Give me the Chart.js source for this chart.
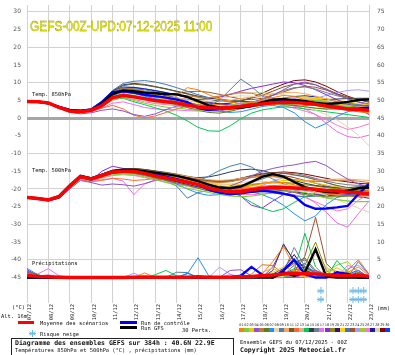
<!DOCTYPE html>
<html><head><meta charset="utf-8">
<script src="https://cdn.jsdelivr.net/npm/chart.js@4/dist/chart.umd.min.js"></script>
<style>
html,body{margin:0;padding:0;background:#fff;}
#wrap{position:relative;width:395px;height:355px;overflow:hidden;background:#fff;}
#c{position:absolute;left:0;top:0;}
.t{position:absolute;white-space:nowrap;font-family:"DejaVu Sans Mono",monospace;font-size:5.4px;line-height:8px;height:8px;color:#111;}
.b{font-weight:bold;font-size:6.5px;}
.bar{position:absolute;}
#title{position:absolute;left:30px;top:19px;font-family:"Liberation Sans",Arial,sans-serif;font-size:14px;line-height:14px;color:#ffff00;-webkit-text-stroke:0.35px #7a7a00;transform:scaleX(0.85);transform-origin:0 0;white-space:nowrap;}
#box{position:absolute;left:11px;top:338px;width:221px;height:22px;border:1px solid #222;}
.sw{position:absolute;top:328px;width:5px;height:4px;}
.swn{position:absolute;top:323px;width:5px;text-align:center;font-family:"DejaVu Sans Mono",monospace;font-size:3.6px;line-height:5px;color:#222;}
</style></head>
<body>
<div id="wrap">
<canvas id="c" width="395" height="355"></canvas>
<div id="title">GEFS-00Z-UPD:07-12-2025 11:00</div>
<div class="t" style="left:32px;top:90px;">Temp. 850hPa</div>
<div class="t" style="left:32px;top:166px;">Temp. 500hPa</div>
<div class="t" style="left:32px;top:259px;">Précipitations</div>
<div class="t" style="left:12px;top:303px;">(°C)</div>
<div class="t" style="left:1px;top:312px;">Alt. 16m</div>
<div class="t" style="left:377px;top:304px;">(mm)</div>
<div class="bar" style="left:18px;top:321px;width:16px;height:3px;background:#ff0000;"></div>
<div class="t" style="left:40px;top:318.5px;">Moyenne des scénarios</div>
<div class="bar" style="left:120px;top:321px;width:17px;height:3px;background:#0000ff;"></div>
<div class="t" style="left:141px;top:318.5px;">Run de contrôle</div>
<div class="bar" style="left:120px;top:326px;width:17px;height:3px;background:#000;"></div>
<div class="t" style="left:141px;top:324px;">Run GFS</div>
<div class="t" style="left:182px;top:326px;">30 Perts.</div>
<canvas id="flakeLeg" width="7" height="7" style="position:absolute;left:29px;top:330px;"></canvas>
<div class="t" style="left:40px;top:329.5px;">Risque neige</div>
<div id="swatches"></div>
<div id="box"></div>
<div class="t b" style="left:15px;top:338.5px;">Diagramme des ensembles GEFS sur 384h : 40.6N 22.9E</div>
<div class="t" style="left:15px;top:345.5px;">Températures 850hPa et 500hPa (°C) , précipitations (mm)</div>
<div class="t" style="left:240px;top:337.5px;">Ensemble GEFS du 07/12/2025 - 00Z</div>
<div class="t b" style="left:240px;top:346px;">Copyright 2025 Meteociel.fr</div>
</div>
<script>
// ---------- DATA ----------
const hours = [0,12,24,36,48,60,72,84,96,108,120,132,144,156,168,180,192,204,216,228,240,252,264,276,288,300,312,324,336,348,360,372,384];
const dateLabels = ["07/12","08/12","09/12","10/12","11/12","12/12","13/12","14/12","15/12","16/12","17/12","18/12","19/12","20/12","21/12","22/12","23/12"];
const leftTicks = [-45,-40,-35,-30,-25,-20,-15,-10,-5,0,5,10,15,20,25,30];
const rightTicks = [0,5,10,15,20,25,30,35,40,45,50,55,60,65,70,75];
const memberNames = ["01","02","03","04","05","06","07","08","09","10","11","12","13","14","15","16","17","18","19","20","21","22","23","24","25","26","27","28","29","30"];
const memberColors = ["#ff7f00","#7ccd3c","#e8c800","#9050c8","#c8782c","#5e7e1e","#1e90ff","#e6d2a8","#4682b4","#f4a860","#6e5a2a","#ff6a30","#d8b090","#00c850","#2c3e50","#708090","#ee6cee","#8a2be2","#8c8c10","#30107a","#ffd200","#3c78c0","#a0522d","#a89cff","#9acd32","#ff78c0","#1a1aa0","#ddd0a0","#8b0000","#0040ff"];

const t850Mean = [4.7,4.6,4.3,3.0,2.0,1.8,2.2,3.5,5.8,6.4,6.0, 5.5,5.0,4.6,4.3,3.7,3.1,2.9,2.8,3.0,3.3,3.7, 4.0,4.3,4.5,4.4,4.2,3.9,3.4,3.0,2.6,2.4,2.2];
const t850Control = [4.8,4.6,4.2,3.2,2.3,2.0,2.4,4.5,7.3,7.6,7.2, 6.6,6.2,5.8,5.2,4.5,2.8,2.3,2.6,2.9,3.2,3.8, 4.0,4.5,5.0,5.2,4.8,4.1,3.6,3.0,2.6,2.7,2.9];
const t850Gfs = [4.8,4.7,4.2,3.0,2.2,2.0,2.3,4.0,6.8,7.8,7.6, 7.2,7.0,6.8,6.7,6.0,4.8,3.6,3.0,2.8,2.9,3.4, 4.5,5.2,5.4,5.0,4.7,4.3,4.0,4.2,4.6,5.1,5.3];
const t850Members = [
[4.8,4.7,4.3,3.2,2.2,1.9,2.1,3.6,5.6,6.6,6.1, 5.4,4.9,4.8,6.2,8.6,8.0,6.6,5.5,4.6,4.0,4.4, 5.0,5.8,6.4,6.1,5.2,4.5,3.9,3.2,2.6,2.0,1.6],
[4.7,4.6,4.2,3.0,1.9,1.6,2.0,3.2,5.0,5.8,5.0, 4.2,3.6,3.1,2.9,2.5,2.2,2.4,3.0,3.6,4.2,4.6, 4.4,4.0,3.6,3.9,4.5,5.0,4.6,3.8,3.2,2.9,2.5],
[4.8,4.8,4.4,3.4,2.5,2.2,2.5,4.3,6.8,7.9,7.5, 6.8,6.0,5.4,4.9,4.1,3.4,3.0,2.6,2.3,2.7,3.5, 4.3,5.1,5.6,5.9,6.0,5.6,4.8,4.0,3.3,2.8,2.6],
[4.6,4.5,4.0,2.8,1.6,1.2,1.5,2.2,2.6,2.0,1.0, 0.5,1.2,2.4,3.4,3.6,3.0,2.4,2.0,2.6,3.5,4.4, 5.2,6.4,8.0,9.6,10.2,9.4,8.0,6.6,5.4,4.6,4.0],
[4.8,4.7,4.3,3.3,2.4,2.2,2.6,4.6,7.4,8.6,8.2, 7.6,7.1,6.8,6.5,6.3,5.9,5.8,6.2,6.8,7.2,7.0, 6.4,5.6,4.9,4.4,4.0,3.5,3.1,2.6,2.2,1.8,1.4],
[4.7,4.6,4.2,3.1,2.1,1.8,2.2,3.8,6.0,6.8,6.3, 5.6,5.0,4.4,3.8,3.0,2.2,1.6,1.4,1.9,2.7,3.4, 3.9,4.2,4.0,3.6,3.2,2.8,2.6,2.8,3.2,3.5,3.6],
[4.8,4.7,4.3,3.2,2.2,2.0,2.4,4.1,6.4,7.4,7.0, 6.2,5.5,4.9,4.4,3.9,3.3,2.6,2.0,1.6,1.8,2.5, 3.3,3.6,3.0,1.5,-1.0,-2.8,-1.5,0.5,1.8,2.4,2.0],
[4.8,4.6,4.2,3.1,2.1,1.9,2.3,3.9,6.1,7.0,6.6, 6.0,5.6,5.4,5.2,5.0,4.9,5.1,5.5,6.0,6.3,6.2, 5.8,5.2,4.6,4.0,3.2,2.2,1.0,-0.5,-2.5,-4.8,-7.8],
[4.8,4.7,4.3,3.3,2.3,2.0,2.5,4.4,7.0,8.2,8.3, 8.0,7.4,6.6,5.6,4.6,3.6,3.4,5.0,8.0,11.0,9.0, 6.2,4.6,3.8,3.5,3.5,3.8,4.2,4.4,4.2,3.8,3.3],
[4.7,4.6,4.3,3.2,2.3,2.1,2.6,4.4,6.9,8.0,7.8, 7.2,6.6,6.1,5.7,5.2,4.8,4.6,4.6,5.0,5.5,6.0, 6.4,6.8,7.2,7.3,6.9,6.2,5.4,4.8,4.2,3.8,3.5],
[4.8,4.7,4.2,3.1,2.1,1.9,2.3,4.2,7.3,9.2,9.6, 9.3,8.8,8.2,7.5,6.8,6.0,5.3,4.8,4.6,4.9,5.6, 6.4,7.6,8.8,9.6,9.9,9.4,8.2,6.9,5.9,5.2,4.7],
[4.8,4.6,4.1,3.0,2.0,1.7,1.9,2.8,3.6,2.6,0.8, 0.1,0.6,1.6,2.6,3.4,3.9,4.0,3.8,3.6,3.5,3.8, 4.3,4.8,5.0,4.8,4.4,3.9,3.4,3.0,2.6,2.3,2.0],
[4.7,4.6,4.3,3.2,2.2,2.0,2.3,3.7,5.5,6.2,5.7, 5.0,4.5,4.0,3.6,3.0,2.4,2.0,1.8,2.1,2.8,3.6, 4.2,4.7,5.0,5.3,5.4,5.1,4.6,4.0,3.6,3.3,3.1],
[4.8,4.7,4.3,3.3,2.3,2.0,2.2,3.5,5.4,5.6,4.6, 3.8,2.9,2.0,0.8,-0.8,-2.6,-3.6,-3.7,-2.2,-0.2,1.4, 2.3,2.8,3.2,3.0,2.6,2.2,1.8,1.4,1.0,0.6,0.2],
[4.8,4.7,4.3,3.2,2.3,2.1,2.5,4.5,7.6,9.4,9.8, 9.5,8.9,8.3,7.6,6.9,6.2,5.7,5.3,5.0,4.8,4.6, 4.4,4.4,4.5,4.6,4.8,5.0,5.2,5.4,5.5,5.6,5.6],
[4.8,4.6,4.2,3.1,2.2,2.0,2.4,4.2,7.0,8.4,8.1, 7.4,6.6,5.9,5.2,4.5,3.8,3.3,3.0,3.1,3.6,4.4, 5.4,6.6,7.8,8.6,8.8,8.2,7.2,6.3,5.7,5.3,5.0],
[4.7,4.6,4.2,3.1,2.0,1.6,1.8,2.8,4.2,4.6,3.8, 3.0,2.6,2.4,2.3,2.1,2.0,2.2,2.8,3.6,4.2,4.5, 4.6,4.4,4.0,3.4,2.6,1.0,-1.5,-3.8,-5.2,-5.6,-4.8],
[4.8,4.7,4.3,3.2,2.3,2.0,2.4,4.0,6.4,7.4,7.0, 6.4,5.9,5.6,5.4,5.3,5.2,5.4,5.9,6.7,7.6,8.4, 9.0,9.6,10.2,10.0,9.2,8.0,6.6,5.2,4.0,2.6,1.0],
[4.8,4.7,4.2,3.1,2.1,1.9,2.3,4.0,6.5,7.6,7.3, 6.7,6.1,5.5,4.9,4.2,3.5,3.1,2.9,3.0,3.4,3.9, 4.3,4.6,4.8,4.9,4.9,4.7,4.4,4.1,3.8,3.6,3.4],
[4.8,4.7,4.3,3.2,2.3,2.1,2.5,4.3,6.9,8.0,7.6, 6.8,6.0,5.3,4.7,4.1,3.5,3.1,2.8,2.7,2.8,3.2, 3.7,4.2,4.6,4.8,4.7,4.3,3.8,3.3,2.9,2.6,2.4],
[4.7,4.6,4.2,3.1,2.2,2.0,2.4,4.1,6.6,7.7,7.4, 6.8,6.3,5.9,5.5,5.0,4.4,3.8,3.3,3.0,2.9,3.1, 3.5,4.0,4.5,5.0,5.4,5.6,5.5,5.1,4.6,4.1,3.7],
[4.8,4.7,4.3,3.3,2.4,2.2,2.7,4.8,7.8,9.8,10.4, 10.6,10.2,9.5,8.6,7.6,6.6,5.8,5.2,4.8,4.6,4.5, 4.5,4.6,4.7,4.8,4.7,4.4,4.0,3.6,3.3,3.0,2.8],
[4.8,4.7,4.3,3.2,2.2,2.0,2.4,4.1,6.6,7.8,7.6, 7.2,6.9,6.8,7.0,7.4,7.6,7.3,6.7,6.0,5.4,5.2, 5.6,6.4,7.4,8.4,9.0,8.7,7.9,6.8,5.6,4.5,3.6],
[4.7,4.6,4.2,3.1,2.1,1.8,2.1,3.6,5.7,6.6,6.2, 5.6,5.0,4.5,4.1,3.7,3.3,3.0,2.9,3.0,3.3,3.7, 4.0,4.2,4.4,4.6,5.0,5.6,6.4,7.2,7.8,8.0,7.6],
[4.8,4.7,4.3,3.2,2.2,2.0,2.4,4.0,6.2,7.0,6.5, 5.8,5.1,4.6,4.1,3.6,3.0,2.6,2.4,2.5,2.9,3.4, 3.8,4.0,3.9,3.6,3.2,2.8,2.5,2.4,2.5,2.6,2.7],
[4.8,4.6,4.2,3.1,2.0,1.7,2.0,3.4,5.2,5.8,5.3, 4.6,4.1,3.8,3.5,3.3,3.1,3.0,3.1,3.4,3.8,4.1, 4.2,4.0,3.5,2.8,2.0,1.0,-0.4,-2.0,-3.2,-2.6,-1.6],
[4.8,4.7,4.3,3.3,2.3,2.1,2.5,4.4,7.2,8.6,8.6, 8.2,7.7,7.2,6.6,5.9,5.1,4.4,3.9,3.6,3.6,3.9, 4.4,5.0,5.6,6.1,6.3,6.0,5.4,4.7,4.1,3.7,3.4],
[4.8,4.7,4.3,3.2,2.2,2.0,2.4,4.0,6.3,7.3,7.0, 6.5,6.1,5.8,5.6,5.5,5.5,5.7,6.1,6.6,7.0,7.2, 7.2,7.0,6.6,6.2,5.8,5.4,5.0,4.6,4.2,3.8,3.5],
[4.8,4.7,4.3,3.2,2.3,2.1,2.6,4.5,7.2,8.4,8.1, 7.5,6.9,6.3,5.7,5.1,4.6,4.2,4.0,4.2,4.8,5.8, 7.0,8.4,9.6,10.6,10.8,10.2,9.0,7.5,6.2,5.2,4.5],
[4.8,4.7,4.3,3.3,2.4,2.2,2.6,4.6,7.5,8.8,8.7, 8.3,7.8,7.2,6.5,5.8,5.1,4.5,4.0,3.7,3.6,3.7, 4.0,4.4,4.8,5.1,5.2,5.0,4.6,4.1,3.7,3.4,3.2]
];

const t500Mean = [-22.4,-22.7,-23.1,-22.2,-19.2,-16.5,-17.2,-16.2,-15.2,-15.0,-15.0, -15.6,-16.3,-16.9,-17.5,-18.1,-18.7,-19.8,-20.4,-20.8,-20.8,-20.2, -19.8,-19.6,-19.6,-19.7,-19.9,-20.1,-20.4,-20.6,-20.9,-21.1,-21.4];
const t500Control = [-22.4,-22.8,-23.2,-22.3,-19.3,-16.6,-17.3,-16.2,-15.3,-15.0,-14.9, -15.3,-15.8,-16.5,-17.2,-18.0,-18.8,-20.2,-21.0,-21.5,-21.2,-20.8, -20.5,-20.8,-21.3,-22.0,-24.5,-25.6,-25.5,-25.2,-24.8,-21.5,-18.5];
const t500Gfs = [-22.3,-22.6,-23.0,-22.0,-19.0,-16.3,-17.0,-16.0,-15.0,-14.6,-14.6, -15.0,-15.4,-15.8,-16.3,-17.0,-17.8,-18.8,-19.6,-19.8,-19.3,-18.0, -16.6,-15.8,-16.5,-18.0,-19.5,-20.3,-20.8,-21.0,-20.5,-19.8,-19.6];
const t500Members = [
[-22.4,-22.7,-23.1,-22.3,-19.4,-16.8,-17.5,-16.6,-15.6,-15.2,-15.1, -15.6,-16.1,-16.6,-17.0,-17.5,-18.0,-18.8,-19.4,-19.8,-19.6,-19.0, -18.4,-18.0,-18.2,-18.8,-19.6,-20.4,-21.0,-21.4,-21.2,-20.8,-20.5],
[-22.5,-22.8,-23.2,-22.5,-19.8,-17.2,-17.6,-16.8,-16.0,-15.8,-16.0, -16.6,-17.4,-18.2,-19.0,-19.8,-20.4,-21.0,-21.6,-22.0,-22.2,-22.0, -21.6,-21.0,-20.6,-20.6,-21.0,-21.8,-22.6,-23.0,-23.4,-23.6,-23.5],
[-22.3,-22.6,-23.0,-22.0,-19.0,-16.2,-16.9,-15.9,-14.9,-14.6,-14.7, -15.1,-15.6,-16.1,-16.6,-17.2,-17.8,-18.4,-19.0,-19.4,-19.5,-19.2, -18.6,-18.0,-17.6,-17.5,-17.8,-18.3,-18.9,-19.4,-19.8,-20.0,-20.2],
[-22.5,-22.9,-23.3,-22.6,-20.0,-17.6,-18.2,-18.9,-18.6,-18.8,-19.2, -18.5,-17.6,-17.2,-17.4,-17.9,-18.6,-19.2,-19.6,-19.2,-18.0,-16.4, -15.0,-14.2,-13.6,-13.2,-12.6,-12.2,-13.4,-15.4,-17.2,-18.6,-19.4],
[-22.4,-22.7,-23.1,-22.2,-19.2,-16.5,-17.1,-16.2,-15.2,-14.8,-14.6, -14.9,-15.3,-15.8,-16.4,-17.0,-17.6,-18.0,-18.2,-18.0,-17.4,-16.8, -16.4,-16.4,-16.8,-17.4,-17.8,-17.9,-17.8,-17.6,-17.5,-17.8,-18.2],
[-22.4,-22.8,-23.2,-22.4,-19.6,-17.0,-17.4,-16.5,-15.6,-15.4,-15.6, -16.2,-16.9,-17.6,-18.3,-19.0,-19.8,-20.6,-21.2,-21.4,-21.0,-20.4, -20.0,-20.0,-20.4,-21.0,-21.6,-22.0,-22.2,-22.2,-22.0,-21.8,-21.6],
[-22.4,-22.7,-23.1,-22.2,-19.2,-16.5,-17.2,-16.2,-15.2,-14.9,-15.0, -15.6,-16.4,-17.4,-18.6,-20.0,-21.2,-21.8,-21.6,-21.0,-20.6,-20.8, -21.6,-22.8,-24.6,-27.0,-29.0,-27.6,-24.4,-22.4,-21.8,-21.4,-21.0],
[-22.4,-22.7,-23.1,-22.3,-19.3,-16.6,-17.2,-16.3,-15.3,-15.0,-15.0, -15.4,-15.9,-16.4,-17.0,-17.6,-18.2,-18.6,-18.8,-18.6,-18.2,-17.8, -17.8,-18.2,-18.8,-19.4,-20.0,-20.8,-21.8,-23.0,-24.2,-25.4,-26.6],
[-22.4,-22.7,-23.1,-22.3,-19.3,-16.4,-17.0,-16.1,-15.1,-14.8,-14.8, -15.2,-15.8,-16.6,-17.4,-18.0,-17.8,-16.4,-14.8,-13.6,-12.8,-13.8, -15.6,-17.2,-18.6,-19.6,-20.2,-20.4,-20.4,-20.2,-20.0,-19.8,-19.8],
[-22.3,-22.6,-23.0,-22.1,-19.1,-16.4,-17.0,-16.0,-15.0,-14.6,-14.5, -14.8,-15.2,-15.6,-16.0,-16.5,-17.0,-17.4,-17.6,-17.4,-17.0,-16.6, -16.4,-16.6,-17.0,-17.4,-17.6,-17.6,-17.4,-17.2,-17.2,-17.4,-17.6],
[-22.4,-22.7,-23.1,-22.2,-19.2,-16.5,-17.1,-16.1,-15.0,-14.5,-14.3, -14.5,-14.9,-15.3,-15.8,-16.4,-17.0,-17.5,-17.8,-17.6,-17.0,-16.2, -15.6,-15.4,-15.6,-16.0,-16.6,-17.4,-18.2,-19.0,-19.6,-20.0,-20.2],
[-22.5,-22.8,-23.2,-22.5,-19.8,-17.3,-18.0,-17.6,-17.0,-17.2,-17.6, -17.4,-17.0,-16.8,-17.0,-17.5,-18.2,-19.0,-19.6,-20.0,-20.0,-19.6, -19.2,-19.0,-19.2,-19.6,-20.2,-20.8,-21.4,-21.8,-22.0,-22.0,-21.8],
[-22.4,-22.8,-23.2,-22.4,-19.6,-17.0,-17.6,-16.8,-15.9,-15.6,-15.8, -16.4,-17.2,-18.0,-18.6,-19.2,-19.8,-20.4,-20.8,-21.0,-21.0,-20.6, -20.2,-20.0,-20.0,-20.2,-20.6,-21.0,-21.4,-21.6,-21.8,-22.0,-22.2],
[-22.4,-22.7,-23.1,-22.3,-19.3,-16.6,-17.2,-16.4,-15.5,-15.2,-15.3, -15.8,-16.4,-17.0,-17.6,-18.2,-18.8,-19.4,-20.0,-20.8,-22.0,-23.8, -25.4,-26.4,-25.6,-23.8,-22.2,-21.2,-20.8,-20.8,-21.2,-21.6,-21.8],
[-22.4,-22.7,-23.0,-22.1,-19.0,-16.2,-16.8,-15.8,-14.7,-14.3,-14.2, -14.5,-15.0,-15.6,-16.2,-16.6,-16.8,-16.6,-16.0,-15.2,-14.6,-14.4, -14.8,-15.6,-16.6,-17.6,-18.4,-19.0,-19.4,-19.6,-19.6,-19.4,-19.2],
[-22.4,-22.7,-23.1,-22.2,-19.2,-16.5,-17.1,-16.1,-15.1,-14.7,-14.6, -15.0,-15.5,-16.1,-16.8,-17.6,-18.4,-19.0,-19.4,-19.4,-19.0,-18.2, -17.2,-16.2,-15.6,-15.6,-16.2,-17.0,-17.8,-18.4,-18.8,-19.0,-19.0],
[-22.5,-22.9,-23.3,-22.6,-20.0,-17.4,-17.8,-17.4,-17.0,-17.8,-21.6, -18.6,-17.4,-17.2,-17.6,-18.2,-18.8,-19.4,-19.8,-20.0,-20.0,-19.8, -19.6,-19.6,-20.0,-20.8,-22.0,-24.0,-26.6,-29.6,-30.8,-27.0,-23.4],
[-22.4,-22.7,-23.1,-22.3,-19.4,-16.8,-17.6,-15.0,-13.6,-14.2,-14.6, -15.2,-15.8,-16.4,-17.0,-17.6,-18.2,-18.8,-19.4,-20.2,-22.0,-24.6, -25.4,-23.4,-21.6,-20.6,-20.2,-20.4,-20.8,-21.2,-21.4,-21.4,-21.2],
[-22.4,-22.7,-23.1,-22.2,-19.2,-16.4,-17.0,-16.1,-15.1,-14.8,-14.8, -15.3,-15.9,-16.5,-17.1,-17.7,-18.3,-18.9,-19.3,-19.4,-19.2,-18.8, -18.4,-18.2,-18.2,-18.4,-18.8,-19.2,-19.6,-20.0,-20.4,-20.6,-20.8],
[-22.4,-22.8,-23.2,-22.4,-19.5,-16.8,-17.5,-16.6,-15.6,-15.3,-15.4, -15.9,-16.6,-17.3,-18.0,-18.7,-19.4,-20.0,-20.4,-20.6,-20.6,-20.4, -20.2,-20.2,-20.4,-20.8,-21.2,-21.6,-21.8,-21.8,-21.6,-21.4,-21.2],
[-22.3,-22.6,-23.0,-22.1,-19.1,-16.3,-16.9,-15.9,-14.9,-14.6,-14.6, -15.0,-15.5,-16.0,-16.6,-17.2,-17.8,-18.3,-18.6,-18.8,-18.8,-18.6, -18.4,-18.4,-18.6,-19.0,-19.4,-19.8,-20.2,-20.6,-20.8,-21.0,-21.0],
[-22.4,-22.7,-23.1,-22.3,-19.3,-16.6,-17.2,-16.3,-15.4,-15.1,-15.2, -15.8,-16.6,-17.6,-19.2,-22.6,-21.0,-20.4,-20.2,-19.8,-19.6,-19.8, -20.4,-21.0,-21.6,-22.0,-22.2,-22.0,-21.6,-21.2,-21.0,-20.8,-20.6],
[-22.4,-22.7,-23.1,-22.2,-19.2,-16.4,-17.0,-16.0,-15.0,-14.6,-14.5, -14.8,-15.2,-15.7,-16.2,-16.8,-17.4,-17.8,-18.0,-17.8,-17.2,-16.6, -16.2,-16.0,-16.2,-16.8,-17.6,-18.4,-19.2,-19.8,-20.2,-20.4,-20.4],
[-22.4,-22.8,-23.2,-22.4,-19.6,-17.0,-17.6,-16.7,-15.8,-15.5,-15.6, -16.1,-16.8,-17.5,-18.2,-18.9,-19.6,-20.2,-20.6,-20.8,-20.6,-20.0, -19.0,-17.8,-16.8,-16.2,-16.4,-17.2,-18.2,-19.2,-20.0,-20.6,-21.0],
[-22.4,-22.7,-23.1,-22.3,-19.4,-16.7,-17.3,-16.5,-15.6,-15.3,-15.4, -15.9,-16.5,-17.1,-17.7,-18.4,-19.1,-19.8,-20.4,-20.8,-21.0,-21.0, -20.8,-20.6,-20.6,-20.8,-21.2,-21.8,-22.4,-23.0,-23.4,-23.6,-23.6],
[-22.5,-22.8,-23.2,-22.5,-19.8,-17.2,-17.8,-17.0,-16.2,-16.0,-16.2, -16.8,-17.4,-18.0,-18.6,-19.2,-19.8,-20.4,-21.0,-21.4,-21.6,-21.6, -21.4,-21.2,-21.2,-21.6,-22.4,-23.6,-25.0,-26.2,-25.6,-23.2,-21.4],
[-22.4,-22.7,-23.1,-22.2,-19.2,-16.5,-17.1,-16.1,-15.1,-14.7,-14.6, -14.9,-15.4,-16.0,-16.7,-17.4,-18.1,-18.8,-19.4,-19.8,-20.0,-20.0, -19.8,-19.6,-19.6,-19.8,-20.2,-20.6,-21.0,-21.4,-21.8,-22.2,-22.6],
[-22.4,-22.7,-23.1,-22.3,-19.3,-16.6,-17.2,-16.3,-15.3,-15.0,-15.0, -15.4,-15.9,-16.4,-16.9,-17.4,-17.9,-18.3,-18.6,-18.8,-18.8,-18.6, -18.4,-18.2,-18.2,-18.4,-18.8,-19.2,-19.8,-20.4,-21.0,-21.6,-22.0],
[-22.4,-22.7,-23.0,-22.1,-19.0,-16.2,-16.9,-15.9,-14.8,-14.4,-14.3, -14.6,-15.0,-15.5,-16.0,-16.6,-17.2,-17.6,-17.8,-17.6,-17.0,-16.4, -15.8,-15.4,-15.2,-15.4,-15.8,-16.4,-17.0,-17.6,-18.0,-18.4,-18.6],
[-22.4,-22.7,-23.1,-22.2,-19.2,-16.4,-17.0,-16.0,-15.0,-14.7,-14.7, -15.1,-15.7,-16.3,-17.0,-17.7,-18.4,-19.0,-19.6,-20.0,-20.2,-20.2, -20.0,-19.8,-19.8,-20.0,-20.4,-20.8,-21.2,-21.6,-21.8,-22.0,-22.0]
];

const precipMean = [0.6,0.3,0.2,0.1,0,0,0,0,0,0,0.1, 0.1,0.1,0.1,0.1,0.1,0.2,0.1,0.1,0.1,0.2,0.3, 0.5,0.7,1.0,1.2,1.1,1.0,0.8,0.6,0.5,0.7,0.3];
const precipControl = [0,0,0,0,0,0,0,0,0,0,0, 0,0,0,0,0,0,0,0,0,0.5,3.0, 0.8,0,2.0,5.0,1.0,0,0,1.5,1.0,0,0];
const precipGfs = [0,0,0,0,0,0,0,0,0,0,0, 0,0,0,0,0,0,0,0,0,0,0, 0,0,1.5,0.5,1.5,8.0,0.3,0,0,0,0];
const precipMembers = [
[0.5,0.3,0,0,0,0,0,0,0,0,0, 1.3,0,0,0,0,0,0,0,0,0,0, 1.0,4.5,8.8,3.0,0.5,0,0,0,1.5,3.0,0.5],
[1.0,0.5,0,0,0,0,0,0,0,0,0, 0,0,0,0,0,0,0,0,0,0.5,0, 0,0,0,1.5,2.5,1.0,0,0,0,1.2,0],
[0.8,0.3,0,0,0,0,0,0,0,0,0, 0,0,0,0,0,0,0,0,0,0,0, 0,1.5,3.0,2.0,0,0,1.0,2.8,1.0,0,0],
[1.5,0.6,0,0,0,0,0,0,0,0,0, 0,0,0,0,0,0,0,0,2.0,2.2,0.5, 0,0,0,0,1.0,2.0,0.8,0,0,0,0],
[0.6,0,0,0,0,0,0,0,0,0,0, 0,0,0,0,0,0,0,0,0,0,1.0, 3.6,3.4,1.0,0,0,2.0,0.5,0,0,0,0],
[1.8,0.8,0,0,0,0,0,0,0,0,0, 0,0,0,0,0,0,0,0,0,0,0, 0,0,1.2,2.0,0.6,0,0,0,0.8,0,0],
[2.6,0.8,0,0,0,0,0,0,0,0,0, 0,0,0,0,1.0,5.6,0.5,0,0,0,0, 0,0,0,0.5,1.0,0,0,0,0,0,0],
[0.4,0,0,0,0,0,0,0,0,0,0, 0,0,0,0,0,0,0,0,0,0,0, 0,1.0,1.5,1.0,0,0,0,0,0,0.6,0],
[1.2,0.5,0,0,0,0,0,0,0,0,0, 0,0,0,1.5,1.4,0,0,0,0,0,0, 0,0,0.8,3.5,5.0,1.5,0,0,0,4.5,0.8],
[0.5,0,0,0,0,0,0,0,0,0,0, 0,0,0,0,0,0,0,0,0,0,0, 1.5,2.6,1.0,0,0,0,2.5,1.8,0,1.0,0],
[0.8,0.3,0,0,0,0,0,0,0,0,0, 0,0,0,0,0,0,0,0,0,0,0, 0,0,2.0,4.0,5.5,2.0,0,0,0,0,0],
[1.0,0.4,0,0,0,0,0,0,0,0,0, 0.6,0,0,0,0,0,0,0,0,0,0, 0,0,1.0,1.5,0,0,0,0,2.0,5.0,1.0],
[0.6,0,0,0,0,0,0,0,0,0,0, 0,0,0,0,0,0,0,0,0,0,0, 0,0,0.6,1.0,1.5,0,0.5,0,0,0,0],
[1.0,0.5,0,0,0,0,0,0,0,0,0, 0,0.8,2.0,0.5,0,0,0,0,0,0,0, 0,0,0,2.0,12.5,3.0,0,4.8,1.5,0,0],
[0.7,0,0,0,0,0,0,0,0,0,0, 0,0,0,0,0,0,0,0,0,0,0, 0,2.0,9.5,4.5,1.0,0,0,0,0,0,0],
[0.9,0.3,0,0,0,0,0,0,0,0,0, 0,0,0,0,0,0,0,0,0,0,0, 0,0,1.5,8.5,3.0,1.0,0,0,0,0,0],
[1.5,1.0,2.5,0.5,0,0,0,0,0,0,0, 0,0,0,0,0,0,0,0,0.8,0,0, 0,0,0,0,0.8,0,0,0,1.0,0,0],
[2.2,0.6,0,0,0,0,0,0,0,0,0, 0,0,0,0,0,0,0,0,0,0,0, 0,3.0,9.0,5.0,1.0,0,0,0,0,0,0],
[0.5,0,0,0,0,0,0,0,0,0,0, 0,0,0,0,0,0,0,0,0,0,0, 0,0,0,1.0,3.5,10.0,2.0,0,0,0,0],
[1.0,0,0,0,0,0,0,0,0,0,0, 0,0,0,0,0,0,0,0,0,0,0, 0,1.0,2.5,6.5,2.0,1.0,0,0,0,0,0],
[0.8,0.4,0,0,0,0,0,0,0,0,0, 0,0,0,0,0,0,0,0,0,0,0, 0,0,0.8,1.8,0,1.2,0,1.0,2.0,0,0],
[0.6,0,0,0,0,0,0,0,0,0,0, 0,0,0,0,1.2,0,0,0,0,0,0, 0,0,1.0,2.5,4.0,1.0,0,0,0,2.0,0],
[0.7,0,0,0,0,0,0,0,0,0,0, 0,0,0,0,0,0,0,0,0,0,0, 0,0,0,1.5,6.0,17.0,4.0,1.0,0,0,0],
[0.9,0,0,0,0,0,0,0,0,0,1.2, 0,0,0,0,0,0,0,2.9,1.0,0,0, 0,0,0,0,0,0,0,0,2.5,3.5,1.0],
[0.5,0,0,0,0,0,0,0,0,0,0, 0,0,0,0,0,0,0,0,0,0,0, 0,0,0.5,1.0,0,0,1.5,3.5,4.5,1.0,0],
[0.8,0.4,0.8,0,0,0,0,0,0,0,0, 0,0,0,0,0,0,0,0,0,0,0, 0,0,0,0,1.0,2.0,0,0,3.5,2.0,0],
[1.1,0,0,0,0,0,0,0,0,0,0, 0,0,0,0,0,0,0,0,0,0,0, 0,0,2.0,5.0,3.0,1.5,0,0,0,0,0],
[0.5,0,0,0,0,0,0,0,0,0,0, 0,0,0,0,0,0,0,0,0,0,0, 0,0,0,0,2.0,6.5,3.0,1.0,0,0,0],
[0.9,0,0,0,0,0,0,0,0,0,0, 0,0,0,0,0,0,0,0,0,0,0, 0,0,0,2.0,3.0,1.0,0,0,0,1.5,0],
[1.2,0.4,0,0,0,0,0,0,0,0,0, 0,0,0,0,0,0,0,0,0,0,0, 0,0,0,1.5,2.5,0.8,0,0,1.0,2.0,0]
];
// snow risk markers: forecast hour and marker row (mm axis, below zero line)
const snowHours = [330,366,372,378];
const snowRows = [-3.8,-6.2];

// ---------- RENDER ----------
function makeFlake(cv){
  const c = cv || document.createElement('canvas');
  c.width = 7; c.height = 7;
  const g = c.getContext('2d');
  g.strokeStyle = '#6fbbe8'; g.lineWidth = 1;
  g.beginPath();
  g.moveTo(3.5,0); g.lineTo(3.5,7);
  g.moveTo(0.5,1.8); g.lineTo(6.5,5.2);
  g.moveTo(0.5,5.2); g.lineTo(6.5,1.8);
  g.moveTo(0,3.5); g.lineTo(7,3.5);
  g.stroke();
  return c;
}
const flake = makeFlake();
makeFlake(document.getElementById('flakeLeg'));

const sw = document.getElementById('swatches');
memberColors.forEach((col,k)=>{
  const x = 239 + k*5.03;
  const s = document.createElement('div'); s.className='sw'; s.style.left = x+'px'; s.style.background = col; sw.appendChild(s);
  const n = document.createElement('div'); n.className='swn'; n.style.left = x+'px'; n.textContent = memberNames[k]; sw.appendChild(n);
});

const pts = arr => arr.map((v,i)=>({x:hours[i], y:v}));
const base = {borderWidth:1, pointRadius:0, tension:0, fill:false, spanGaps:true};
const datasets = [];
t850Members.forEach((a,k)=>datasets.push(Object.assign({}, base, {label:'m'+memberNames[k], data:pts(a), borderColor:memberColors[k], yAxisID:'y', order:3})));
t500Members.forEach((a,k)=>datasets.push(Object.assign({}, base, {label:'m'+memberNames[k], data:pts(a), borderColor:memberColors[k], yAxisID:'y', order:3})));
precipMembers.forEach((a,k)=>datasets.push(Object.assign({}, base, {label:'m'+memberNames[k], data:pts(a), borderColor:memberColors[k], yAxisID:'y2', order:3})));
[[t850Control,'y'],[t500Control,'y'],[precipControl,'y2']].forEach(([a,ax])=>datasets.push(Object.assign({}, base, {label:'control', data:pts(a), borderColor:'#0000ff', borderWidth:2.4, yAxisID:ax, order:2})));
[[t850Gfs,'y'],[t500Gfs,'y'],[precipGfs,'y2']].forEach(([a,ax])=>datasets.push(Object.assign({}, base, {label:'gfs', data:pts(a), borderColor:'#000000', borderWidth:2.4, yAxisID:ax, order:1})));
[[t850Mean,'y'],[t500Mean,'y'],[precipMean,'y2']].forEach(([a,ax])=>datasets.push(Object.assign({}, base, {label:'mean', data:pts(a), borderColor:'#ff0000', borderWidth:3.5, yAxisID:ax, order:0})));
const snowPts = [];
snowHours.forEach(h=>snowRows.forEach(r=>snowPts.push({x:h, y:r})));
datasets.push({label:'snow', data:snowPts, showLine:false, pointStyle:flake, pointRadius:3, yAxisID:'y2', order:0});

const zeroPad = s => { s.paddingTop = 0; s.paddingBottom = 0; s.paddingLeft = 0; s.paddingRight = 0; };

new Chart(document.getElementById('c'), {
  type:'line',
  data:{datasets},
  options:{
    responsive:false, animation:false, devicePixelRatio:1,
    layout:{padding:0},
    plugins:{legend:{display:false}, tooltip:{enabled:false}},
    scales:{
      x:{type:'linear', min:0, max:384,
        afterBuildTicks:s=>{ s.ticks = dateLabels.map((d,i)=>({value:i*24})); },
        ticks:{autoSkip:false, minRotation:90, maxRotation:90, padding:1, labelOffset:3,
          callback:(v,i)=>dateLabels[i], color:'#222', font:{family:'DejaVu Sans Mono', size:5.4}},
        grid:{color:'#d2d2d2', lineWidth:1, drawTicks:false},
        border:{display:false},
        afterFit:s=>{ s.height = 52; zeroPad(s); }
      },
      y:{position:'left', min:-52.19, max:31.93,
        afterBuildTicks:s=>{ s.ticks = leftTicks.map(v=>({value:v})); },
        ticks:{color:'#555', padding:6, font:{family:'DejaVu Sans', size:6}, callback:v=>String(v)},
        grid:{drawTicks:false,
          color:c=>{ const v=c.tick&&c.tick.value; if(v===0) return '#a6a6a6'; if(v%10===0) return '#d2d2d2'; return 'rgba(0,0,0,0)'; },
          lineWidth:c=>{ const v=c.tick&&c.tick.value; return v===0?3:1; }},
        border:{display:false},
        afterFit:s=>{ s.width = 27; zeroPad(s); }
      },
      y2:{position:'right', min:-7.19, max:76.93,
        afterBuildTicks:s=>{ s.ticks = rightTicks.map(v=>({value:v})); },
        ticks:{color:'#555', padding:8, font:{family:'DejaVu Sans', size:6}, callback:v=>String(v)},
        grid:{display:false, drawTicks:false},
        border:{display:false},
        afterFit:s=>{ s.width = 26; zeroPad(s); }
      }
    }
  }
});
</script>
</body></html>
